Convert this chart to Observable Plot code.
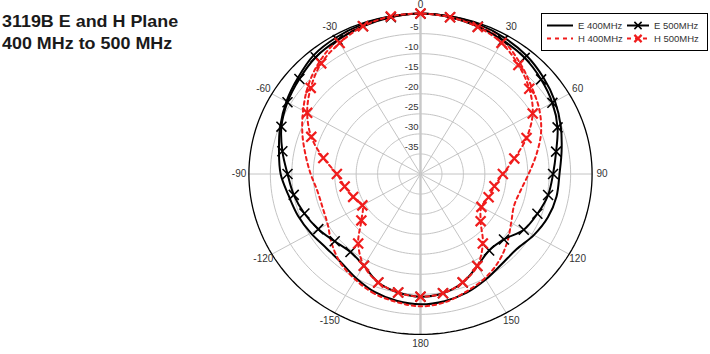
<!DOCTYPE html>
<html>
<head>
<meta charset="utf-8">
<script src="https://cdn.jsdelivr.net/npm/d3@7"></script>
<script src="https://cdn.jsdelivr.net/npm/@observablehq/plot@0.6"></script>
<style>
  html, body { margin: 0; padding: 0; background: #fff; }
  #wrap { position: relative; width: 710px; height: 354px; overflow: hidden; font-family: "Liberation Sans", Arial, sans-serif; }
  #chart { position: absolute; left: 0; top: 0; }
  #title { position: absolute; left: 2px; top: 9.7px; font-weight: bold; font-size: 16.3px; line-height: 22.6px; color: #1a1a1a; transform: scaleX(1.1); transform-origin: 0 0; white-space: nowrap; }
  #legend { position: absolute; left: 541px; top: 13px; }
</style>
</head>
<body>
<div id="wrap">
  <div id="chart"></div>
  <div id="title">3119B E and H Plane<br>400 MHz to 500 MHz</div>
  <div id="legend"></div>
</div>
<script>
// ---- data (angle in degrees, level in dB) ----
const angles = [-170,-160,-150,-140,-130,-120,-110,-100,-90,-80,-70,-60,-50,-40,-30,-20,-10,0,10,20,30,40,50,60,70,80,90,100,110,120,130,140,150,160,170,180];
const e400 = [-7.9,-8.7,-10.0,-11.2,-11.3,-10.5,-9.6,-8.8,-7.4,-6.5,-5.2,-3.9,-2.7,-1.3,-0.7,-0.3,-0.1,0,-0.1,-0.3,-0.8,-1.5,-2.6,-3.8,-5.2,-6.6,-7.6,-7.8,-8.4,-9.5,-10.8,-10.6,-9.6,-8.5,-7.8,-7.5];
const e500 = [-10.0,-11.2,-13.6,-14.6,-13.9,-12.5,-11.2,-10.0,-9.0,-7.3,-5.5,-4.2,-3.15,-2.0,-1.4,-0.8,-0.3,0,-0.3,-0.9,-1.5,-2.2,-3.3,-4.5,-6.0,-7.9,-9.1,-9.8,-11.0,-12.2,-14.6,-15.1,-13.5,-11.2,-9.8,-9.4];
const h400 = [-7.6,-8.3,-9.6,-11.0,-13.0,-15.0,-15.7,-15.6,-14.4,-12.8,-10.7,-8.4,-5.8,-3.4,-1.5,-0.7,-0.3,0,-0.3,-0.7,-1.6,-3.9,-6.2,-8.0,-10.1,-12.6,-14.8,-16.3,-16.8,-15.6,-13.6,-11.6,-10.0,-8.8,-7.5,-7.0];
const h500 = [-10.0,-11.2,-13.6,-17.4,-22.0,-24.35,-23.3,-22.05,-20.5,-17.0,-12.9,-9.5,-6.6,-4.0,-2.3,-0.8,-0.1,0,-0.3,-1.0,-2.25,-4.5,-6.9,-9.8,-13.7,-17.8,-20.8,-22.5,-23.1,-23.6,-21.7,-17.4,-13.5,-11.25,-9.8,-9.4];
const seriesNames = ["E 400MHz", "E 500MHz", "H 400MHz", "H 500MHz"];
const ringTicks = [-35,-30,-25,-20,-15,-10,-5];
const angleTicks = [0,30,60,90,120,150,180,-150,-120,-90,-60,-30];
const angleLabels = ["0","30","60","90","120","150","180","-150","-120","-90","-60","-30"];
const rMin = -40, rMax = 0;

// ---- geometry helpers ----
const rad = a => a * Math.PI / 180;
const px = (a, db) => (db - rMin) * Math.sin(rad(a));
const py = (a, db) => (db - rMin) * Math.cos(rad(a));

const valuesBy = {"E 400MHz": e400, "E 500MHz": e500, "H 400MHz": h400, "H 500MHz": h500};
const rows = seriesNames.flatMap(s => angles.map((a, i) => ({series: s, angle: a, db: valuesBy[s][i], x: px(a, valuesBy[s][i]), y: py(a, valuesBy[s][i])})));
const of = s => rows.filter(d => d.series === s);

const ringSamples = d3.range(0, 361, 2);
const ringRows = ringTicks.flatMap(t => ringSamples.map(a => ({t, x: px(a, t), y: py(a, t)})));
const outerRows = ringSamples.map(a => ({x: px(a, rMax), y: py(a, rMax)}));
const spokes = [0, 30, 60, 90, 120, 150].map(a => ({a, x1: px(a, rMax), y1: py(a, rMax), x2: px(a + 180, rMax), y2: py(a + 180, rMax)}));

// pixel mapping: center (420,173.5), 4.29 px/dB horizontally, 4.01 px/dB vertically
const cx = 420, cy = 173.5, sx = 4.29, sy = 4.01, W = 710, H = 354;

const labelR = 42.3;
const chart = Plot.plot({
  width: W, height: H, margin: 0,
  x: {domain: [-cx / sx, (W - cx) / sx], range: [0, W], axis: null},
  y: {domain: [-(H - cy) / sy, cy / sy], range: [H, 0], axis: null},
  style: {fontFamily: "'Liberation Sans', Arial, sans-serif", background: "transparent"},
  marks: [
    Plot.line(ringRows, {x: "x", y: "y", z: "t", stroke: "#c4c4c4", strokeWidth: 1}),
    Plot.link(spokes.filter(d => d.a !== 0), {x1: "x1", y1: "y1", x2: "x2", y2: "y2", stroke: "#c4c4c4", strokeWidth: 1}),
    Plot.link(spokes.filter(d => d.a === 0), {x1: "x1", y1: "y1", x2: "x2", y2: "y2", stroke: "#c8c8c8", strokeWidth: 2.4}),
    Plot.line(outerRows, {x: "x", y: "y", stroke: "#000", strokeWidth: 1.3}),
    Plot.text(ringTicks, {x: 0, y: d => d - rMin, text: d => String(d), textAnchor: "end", dx: -2, dy: -6.5, fontSize: 9.5, fill: "#333"}),
    Plot.text(angleTicks, {x: (d) => labelR * Math.sin(rad(d)), y: d => labelR * Math.cos(rad(d)), text: (d, i) => angleLabels[i], fontSize: 10, fill: "#333"}),
    Plot.line(of("E 400MHz"), {x: "x", y: "y", curve: "catmull-rom-closed", stroke: "#000", strokeWidth: 2}),
    Plot.line(of("H 400MHz"), {x: "x", y: "y", curve: "catmull-rom-closed", stroke: "#f01c1c", strokeWidth: 2, strokeDasharray: "3.5,3.5"}),
    Plot.line(of("E 500MHz"), {x: "x", y: "y", curve: "catmull-rom-closed", stroke: "#000", strokeWidth: 2}),
    Plot.line(of("H 500MHz"), {x: "x", y: "y", curve: "catmull-rom-closed", stroke: "#f01c1c", strokeWidth: 2, strokeDasharray: "3.5,3.5"}),
    Plot.dot(of("E 500MHz"), {x: "x", y: "y", symbol: "times", r: 4.6, stroke: "#000", strokeWidth: 1.6}),
    Plot.dot(of("H 500MHz"), {x: "x", y: "y", symbol: "times", r: 4.6, stroke: "#f01c1c", strokeWidth: 2.2})
  ]
});
document.getElementById("chart").appendChild(chart);

// ---- legend ----
const legendItems = [
  {name: seriesNames[0], col: 0, row: 0, stroke: "#000", dash: null, marker: false},
  {name: seriesNames[1], col: 1, row: 0, stroke: "#000", dash: null, marker: true},
  {name: seriesNames[2], col: 0, row: 1, stroke: "#f01c1c", dash: "4,4", marker: false},
  {name: seriesNames[3], col: 1, row: 1, stroke: "#f01c1c", dash: "4,4", marker: true}
];
const lg = d3.select("#legend").append("svg").attr("width", 167).attr("height", 38);
lg.append("rect").attr("x", 0.5).attr("y", 0.5).attr("width", 166).attr("height", 37).attr("fill", "#fff").attr("stroke", "#000").attr("stroke-width", 1);
const colX = [6, 86], colLen = [26, 22], rowY = [12.5, 25.5];
legendItems.forEach(it => {
  const x0 = colX[it.col], y0 = rowY[it.row], len = colLen[it.col];
  lg.append("line").attr("x1", x0).attr("x2", x0 + len).attr("y1", y0).attr("y2", y0)
    .attr("stroke", it.stroke).attr("stroke-width", 2).attr("stroke-dasharray", it.dash);
  if (it.marker) {
    const mx = x0 + len / 2, s = 3.6;
    lg.append("path").attr("d", `M${mx - s},${y0 - s}L${mx + s},${y0 + s}M${mx - s},${y0 + s}L${mx + s},${y0 - s}`)
      .attr("stroke", it.stroke).attr("stroke-width", it.stroke === "#000" ? 1.6 : 2.2).attr("fill", "none");
  }
  lg.append("text").attr("x", x0 + len + 5).attr("y", y0).attr("dy", "0.35em")
    .attr("font-size", 9.5).attr("fill", "#333").attr("font-family", "'Liberation Sans', Arial, sans-serif").text(it.name);
});
</script>
</body>
</html>
